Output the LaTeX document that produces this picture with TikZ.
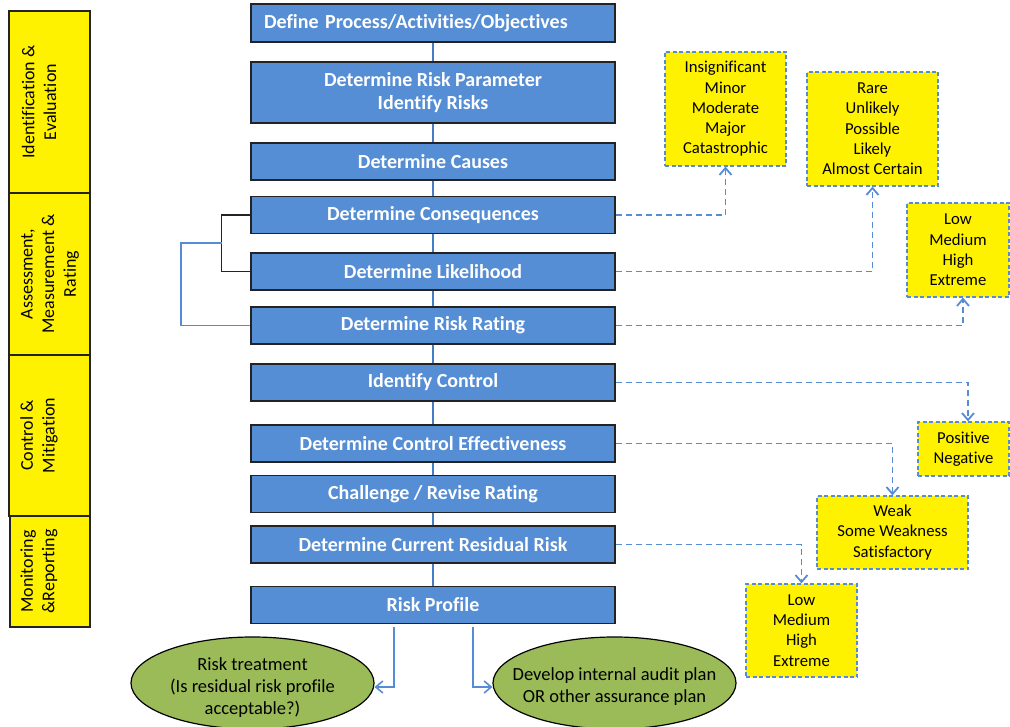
\documentclass[tikz,border=0pt]{standalone}
\usepackage{fontspec}
\setmainfont{Carlito}[Ligatures={NoCommon}]
\usetikzlibrary{arrows.meta,shapes.geometric,calc}
\definecolor{boxblue}{RGB}{85,142,213}
\definecolor{dashblue}{RGB}{86,140,214}
\definecolor{lineblue}{RGB}{70,124,196}
\definecolor{ovalgreen}{RGB}{155,187,89}
\definecolor{edgegray}{RGB}{35,35,35}
\begin{document}
\begin{tikzpicture}[x=1pt,y=-1pt,
  bluebox/.style={draw=edgegray, line width=1.3pt, fill=boxblue, text=white,
    font=\bfseries\fontsize{20}{23}\selectfont, minimum width=364pt,
    minimum height=37pt, inner sep=0pt, align=center},
  ybox/.style={draw=dashblue, dash pattern=on 4pt off 2.5pt, line width=1.2pt,
    fill=yellow, font=\fontsize{16.7}{20.3}\selectfont, align=center, inner sep=0pt},
  sidebar/.style={draw=edgegray, line width=1.2pt, fill=yellow, inner sep=0pt},
  sidetext/.style={rotate=90, font=\fontsize{18}{21.7}\selectfont, align=center, inner sep=0pt},
  oval/.style={ellipse, draw=black, line width=1.2pt, fill=ovalgreen,
    minimum width=243pt, minimum height=92pt, inner sep=0pt},
  ovaltext/.style={align=center, inner sep=0pt, font=\fontsize{18.5}{22}\selectfont},
  dasharrow/.style={draw=dashblue, line width=1.8pt, dash pattern=on 6pt off 4pt,
    -{Straight Barb[length=7pt,width=12pt]}},
  solidarrow/.style={draw=dashblue, line width=1.6pt, -{Straight Barb[length=7pt,width=12pt]}},
  cline/.style={draw=lineblue, line width=1.3pt},
  bracketblack/.style={draw=edgegray, line width=1.4pt},
  bracketblue/.style={draw=dashblue, line width=1.4pt}
]
\useasboundingbox (0,0) rectangle (1010,727);
\fill[white] (0,0) rectangle (1010,727);
\clip (0,0) rectangle (1010,727);

% side bars
\node[sidebar, minimum width=81pt, minimum height=182pt] (s1) at (49.5,102) {};
\node[sidebar, minimum width=81pt, minimum height=162pt] (s2) at (49.5,274) {};
\node[sidebar, minimum width=81pt, minimum height=161pt] (s3) at (49.5,435.5) {};
\node[sidebar, minimum width=80pt, minimum height=111pt] (s4) at (50,571.5) {};
\node[sidetext] (t1) at (39,102) {Identification \&\\Evaluation};
\node[sidetext] (t2) at (50,274) {Assessment,\\Measurement \&\\Rating};
\node[sidetext] (t3) at (39,435.5) {Control \&\\Mitigation};
\node[sidetext] (t4) at (39,571.5) {Monitoring\\\&Reporting};

% main process boxes
\node[bluebox, minimum height=38pt, text width=338pt, inner xsep=13pt, align=left] (b1) at (433,23) {Define Process/Activities/Objectives};
\node[bluebox, minimum height=61pt] (b2) at (433,92.5) {Determine Risk Parameter\\Identify Risks};
\node[bluebox] (b3) at (433,161.5) {Determine Causes};
\node[bluebox] (b4) at (433,215) {Determine Consequences};
\node[bluebox] (b5) at (433,271.5) {Determine Likelihood};
\node[bluebox] (b6) at (433,325.5) {Determine Risk Rating};
\node[bluebox] (b7) at (433,382.5) {Identify Control};
\node[bluebox] (b8) at (433,443.5) {Determine Control Effectiveness};
\node[bluebox] (b9) at (433,494) {Challenge / Revise Rating};
\node[bluebox] (b10) at (433,544.5) {Determine Current Residual Risk};
\node[bluebox] (b11) at (433,605) {Risk Profile};

\foreach \a/\b in {b1/b2,b2/b3,b3/b4,b4/b5,b5/b6,b6/b7,b7/b8,b8/b9,b9/b10,b10/b11}
  \draw[cline] (\a) -- (\b);

% yellow option boxes
\node[ybox, minimum width=121pt, minimum height=114pt] (y1) at (725.5,109) {Insignificant\\Minor\\Moderate\\Major\\Catastrophic};
\node[ybox, minimum width=131pt, minimum height=114pt] (y2) at (872.5,129) {Rare\\Unlikely\\Possible\\Likely\\Almost Certain};
\node[ybox, minimum width=102pt, minimum height=94pt] (y3) at (958,250) {Low\\Medium\\High\\Extreme};
\node[ybox, minimum width=91pt, minimum height=54pt] (y4) at (963.5,449) {Positive\\Negative};
\node[ybox, minimum width=151pt, minimum height=73pt] (y5) at (892.5,532.5) {Weak\\Some Weakness\\Satisfactory};
\node[ybox, minimum width=111pt, minimum height=93pt] (y6) at (801.5,630.5) {Low\\Medium\\High\\Extreme};

\draw[dasharrow] (b4.east) -| (y1.south);
\draw[dasharrow] (b5.east) -| (y2.south);
\draw[dasharrow] (b6.east) -| ([xshift=5pt]y3.south);
\draw[dasharrow] (b7.east) -| ([xshift=4.5pt]y4.north);
\draw[dasharrow] (b8.east) -| (y5.north);
\draw[dasharrow] (b10.east) -| (y6.north);

% brackets
\draw[bracketblack] (b4.west) -- ++(-29,0) |- (b5.west);
\coordinate (br) at (222,243);
\draw[bracketblue] (br) -- ++(-41,0) |- (b6.west);

% outcomes
\node[oval] (e1) at (252.5,683) {};
\node[oval] (e2) at (614.5,683) {};
\node[ovaltext] (e1t) at (252.5,688) {Risk treatment\\(Is residual risk profile\\acceptable?)};
\node[ovaltext] (e2t) at (614.5,686.5) {Develop internal audit plan\\OR other assurance plan};
\draw[solidarrow] ([xshift=-39pt,yshift=-3pt]b11.south) |- ([yshift=-4pt]e1.east);
\draw[solidarrow] ([xshift=40pt,yshift=-3pt]b11.south) |- ([yshift=-4pt]e2.west);
\end{tikzpicture}
\end{document}
